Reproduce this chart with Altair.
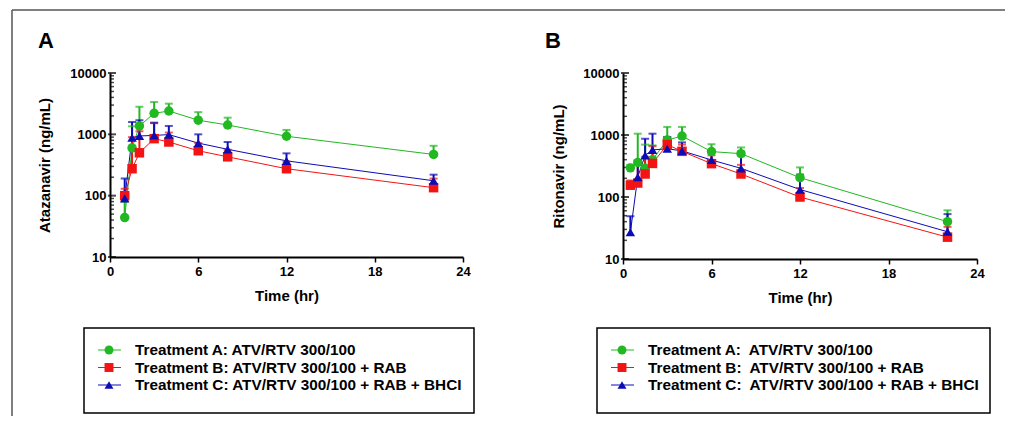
import altair as alt
import pandas as pd

# ---------------- data ----------------
keys = ["A", "B", "C"]
labels_A = ["Treatment A: ATV/RTV 300/100",
            "Treatment B: ATV/RTV 300/100 + RAB",
            "Treatment C: ATV/RTV 300/100 + RAB + BHCI"]
labels_B = ["Treatment A:\u00a0 ATV/RTV 300/100",
            "Treatment B:\u00a0 ATV/RTV 300/100 + RAB",
            "Treatment C:\u00a0 ATV/RTV 300/100 + RAB + BHCI"]
colors = ["#22B822", "#F21414", "#0C0CB4"]
shapes = ["circle", "square", "triangle-up"]

# Atazanavir (panel A)
time_atv = [1, 1.5, 2, 3, 4, 6, 8, 12, 22]
atv_a = [44, 600, 1370, 2200, 2400, 1700, 1420, 930, 470]
atv_a_hi = [80, 1350, 2820, 3370, 3160, 2300, 1870, 1180, 650]
atv_b = [100, 275, 500, 850, 750, 540, 430, 275, 135]
atv_b_hi = [130, 900, 1120, 1520, 1070, 720, 560, 360, 190]
atv_c = [90, 880, 940, 960, 990, 720, 570, 370, 175]
atv_c_hi = [190, 1590, 1700, 1550, 1370, 1000, 750, 490, 220]

# Ritonavir (panel B)
time_rtv = [0.5, 1, 1.5, 2, 3, 4, 6, 8, 12, 22]
rtv_a = [295, 360, 290, 400, 830, 960, 540, 500, 205, 40]
rtv_a_hi = [330, 1050, 700, 680, 1350, 1350, 710, 630, 300, 61]
rtv_b = [155, 168, 235, 348, 700, 545, 345, 235, 100, 22.5]
rtv_b_hi = [185, 390, 445, 660, 910, 700, 470, 330, 140, 33]
rtv_c = [27, 210, 470, 575, 600, 555, 395, 290, 132, 27.5]
rtv_c_hi = [49, 380, 870, 1050, 930, 760, 530, 470, 230, 53]

x_ticks = [0, 6, 12, 18, 24]
y_major = [10, 100, 1000, 10000]
y_minor = [20, 30, 40, 50, 60, 70, 80, 90,
           200, 300, 400, 500, 600, 700, 800, 900,
           2000, 3000, 4000, 5000, 6000, 7000, 8000, 9000]

FONT = "Liberation Sans"


def panel(times, means, his, ytitle, letter, labels, height, box_w, letter_x,
          ytitle_pad, border=False):
    rows = []
    for k, m, h in zip(keys, means, his):
        for t, v, u in zip(times, m, h):
            rows.append({"trt": k, "t": t, "v": v, "hi": u})
    df = pd.DataFrame(rows)

    xs = alt.Scale(domain=[0, 24])
    ys = alt.Scale(type="log", domain=[10, 10000])
    xaxis = alt.Axis(values=x_ticks, title="Time (hr)", tickSize=5, labelPadding=3,
                     titlePadding=10, labelFlush=False)
    yaxis = alt.Axis(values=y_major, ticks=False, title=ytitle, format="d",
                     labelPadding=4, titlePadding=ytitle_pad)

    def X(f):
        return alt.X(f, type="quantitative", scale=xs, axis=xaxis)

    def Y(f):
        return alt.Y(f, type="quantitative", scale=ys, axis=yaxis)

    color = alt.Color("trt:N", scale=alt.Scale(domain=keys, range=colors), legend=None)
    shape = alt.Shape("trt:N", scale=alt.Scale(domain=keys, range=shapes), legend=None)

    base = alt.Chart(df)
    lines = base.mark_line(strokeWidth=1).encode(x=X("t"), y=Y("v"), color=color)
    bars = base.mark_rule(strokeWidth=2).encode(x=X("t"), y=Y("v"), y2="hi:Q", color=color)
    caps = base.mark_tick(orient="horizontal", size=8, thickness=2).encode(
        x=X("t"), y=Y("hi"), color=color)
    pts = base.mark_point(filled=True, size=90, opacity=1).encode(
        x=X("t"), y=Y("v"), color=color, shape=shape)

    minor = alt.Chart(pd.DataFrame({"m": y_minor})).mark_tick(
        orient="horizontal", size=4, thickness=1.5, color="black").encode(
        y=Y("m"), x=alt.value(2))
    major = alt.Chart(pd.DataFrame({"m": y_major})).mark_tick(
        orient="horizontal", size=8, thickness=2, color="black").encode(
        y=Y("m"), x=alt.value(2))

    plot = alt.layer(minor, major, lines, bars, caps, pts)

    # legend (drawn below the plot)
    leg_df = pd.DataFrame({"trt": keys, "label": labels, "row": list(range(len(keys)))})
    ly = alt.Y("row:Q", scale=alt.Scale(domain=[0, 2], range=[277, 312]), axis=None)
    lbase = alt.Chart(leg_df)
    l_rule = lbase.mark_rule(strokeWidth=1).encode(
        y=ly, x=alt.value(-12), x2=alt.value(11), color=color)
    l_pts = lbase.mark_point(filled=True, size=80, opacity=1).encode(
        y=ly, x=alt.value(-1), color=color, shape=shape)
    l_txt = lbase.mark_text(align="left", baseline="middle", font=FONT, fontSize=15.3,
                            fontWeight="bold", color="black").encode(
        y=ly, x=alt.value(25), text="label:N")
    one = alt.Data(values=[{}])
    box = alt.Chart(one).mark_rect(fillOpacity=0, stroke="black", strokeWidth=1.5).encode(
        x=alt.value(-26), x2=alt.value(box_w), y=alt.value(255), y2=alt.value(340))
    letter_mark = alt.Chart(one).mark_text(align="left", baseline="alphabetic", font=FONT,
                                           fontSize=22, fontWeight="bold", color="black").encode(
        x=alt.value(letter_x), y=alt.value(-25), text=alt.value(letter))
    legend = alt.layer(box, l_rule, l_pts, l_txt, letter_mark)

    parts = [plot, legend]
    if border:
        top = alt.Chart(one).mark_rule(color="#555555", strokeWidth=1.5).encode(
            x=alt.value(-98), x2=alt.value(895), y=alt.value(-63))
        left = alt.Chart(one).mark_rule(color="#555555", strokeWidth=1.5).encode(
            x=alt.value(-98), y=alt.value(-63), y2=alt.value(343))
        parts += [top, left]
    return alt.layer(*parts).resolve_scale(y="independent").properties(
        width=353 if border else 354, height=height)


pA = panel(time_atv, [atv_a, atv_b, atv_c], [atv_a_hi, atv_b_hi, atv_c_hi],
           "Atazanavir (ng/mL)", "A", labels_A, 184, 364, -72, 17, border=True)
pB = panel(time_rtv, [rtv_a, rtv_b, rtv_c], [rtv_a_hi, rtv_b_hi, rtv_c_hi],
           "Ritonavir (ng/mL)", "B", labels_B, 186, 367, -78, 16)

chart = alt.hconcat(pA, pB, spacing=160, bounds="flush").properties(
    padding={"left": 2, "top": 0, "right": 0, "bottom": 0},
    background="white",
).configure_view(stroke="transparent").configure_axis(
    domainColor="black", domainWidth=2, tickColor="black", tickWidth=1.5,
    labelColor="black", labelFont=FONT, labelFontWeight="bold", labelFontSize=13,
    titleColor="black", titleFont=FONT, titleFontWeight="bold", titleFontSize=15,
    grid=False,
)

chart.save("out.html", embed_options={"renderer": "svg", "actions": False})
